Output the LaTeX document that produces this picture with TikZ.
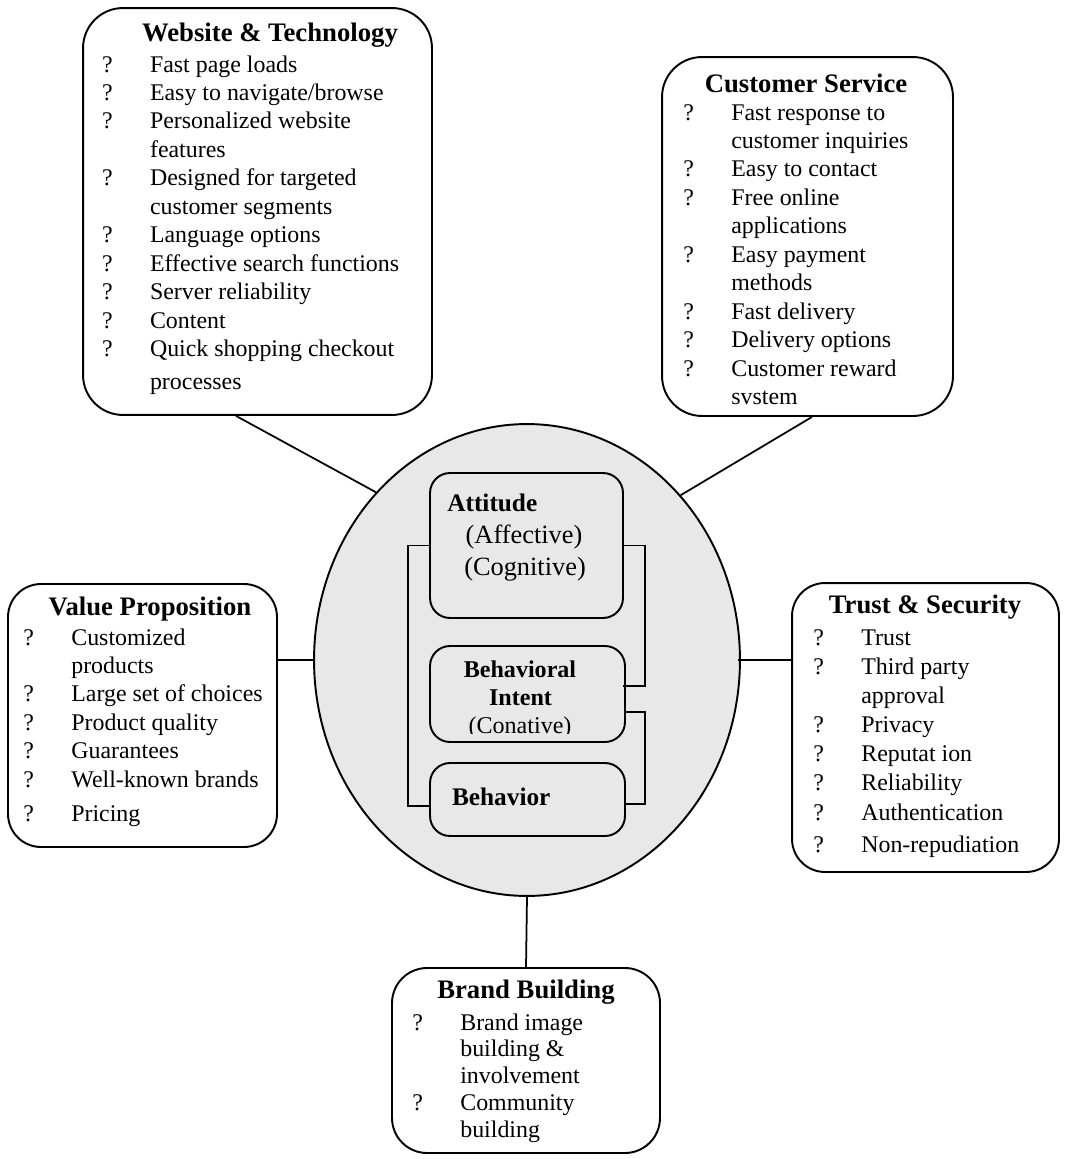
\documentclass[tikz,border=0pt]{standalone}
\usepackage{fontspec}
\setmainfont{Liberation Serif}
\usetikzlibrary{shapes.geometric}
\definecolor{coregray}{RGB}{232,232,232}
\tikzset{
	factorbox/.style={draw, line width=1.1pt, rounded corners=#1, inner sep=0pt},
	factorbox/.default=0.8cm,
	headline/.style={font=\fontsize{15.2}{18}\selectfont\bfseries, anchor=base, inner sep=0pt},
	itemlist/.style={font=\fontsize{13.6}{16.2}\selectfont, anchor=base west, inner sep=0pt},
	stagebox/.style={draw, line width=1.1pt, rounded corners=0.4cm, inner sep=0pt},
	link/.style={line width=1pt},
}
\newcommand{\itemtab}[1]{\begin{tabular}[t]{@{}p{0.96cm}@{}l@{}}#1\end{tabular}}
\begin{document}
\begin{tikzpicture}[x=0.02cm, y=-0.02cm]
		\useasboundingbox (0,0) rectangle (1065,1159);
		
		% centre: the attitude model
		\node[ellipse, draw, line width=1.1pt, fill=coregray, minimum width=8.52cm, minimum height=9.44cm, inner sep=0pt] (core) at (527,660) {};
		\node[stagebox, minimum width=3.86cm, minimum height=2.9cm] (att) at (526.5,545.5) {};
		\node[stagebox, minimum width=3.9cm, minimum height=1.92cm] (int) at (527.5,694) {};
		\node[stagebox, minimum width=3.9cm, minimum height=1.46cm] (beh) at (527.5,799.5) {};
		
		\node[anchor=base west, inner sep=0pt, font=\fontsize{14.4}{17}\selectfont\bfseries] (atttitle) at (447,511.7) {Attitude};
		\node[anchor=base, inner sep=0pt, font=\fontsize{15}{18}\selectfont] (affective) at (524,543) {(Affective)};
		\node[anchor=base, inner sep=0pt, font=\fontsize{15}{18}\selectfont] (cognitive) at (525,575) {(Cognitive)};
		\node[anchor=base, inner sep=0pt, font=\fontsize{13.7}{16}\selectfont\bfseries] (inttitle) at (520,677) {Behavioral};
		\node[anchor=base, inner sep=0pt, font=\fontsize{13.7}{16}\selectfont\bfseries] (inttitleb) at (520.5,705) {Intent};
		\begin{scope}
			\clip ([yshift=0.18cm]int.south west) rectangle (int.north east);
			\node[anchor=base, inner sep=0pt, font=\fontsize{13.7}{16}\selectfont] (conative) at (520,733) {(Conative)};
		\end{scope}
		\node[anchor=base west, inner sep=0pt, font=\fontsize{14.4}{17}\selectfont\bfseries] (behtitle) at (451.7,805.7) {Behavior};
		
		% brackets between the stages
		\draw[link] (att.west) -- ++(-21,0) |- ([yshift=-0.13cm]beh.west);
		\draw[link] (att.east) -- ++(21,0) |- ([yshift=0.16cm, xshift=-0.06cm]int.east);
		\draw[link] ([yshift=-0.36cm]int.east) -- ++(19,0) |- ([yshift=-0.09cm]beh.east);
		
		% factor boxes
		\node[factorbox, minimum width=6.98cm, minimum height=8.14cm] (web) at (257.5,211.5) {};
		\node[headline] (webtitle) at (270,42) {Website \& Technology};
		\node[itemlist] (webitems) at (101.7,72) {\itemtab{
			?&Fast page loads\\
			?&Easy to navigate/browse\\
			?&Personalized website\\
			&features\\
			?&Designed for targeted\\
			&customer segments\\
			?&Language options\\
			?&Effective search functions\\
			?&Server reliability\\
			?&Content\\
			?&Quick shopping checkout\\[2.7pt]
			&processes}};
		
		\node[factorbox, minimum width=5.82cm, minimum height=7.18cm] (cs) at (807.5,236.5) {};
		\node[headline] (cstitle) at (806,92) {Customer Service};
		\node[itemlist] (csitems) at (683,120) {\itemtab{
			?&Fast response to\\
			&customer inquiries\\
			?&Easy to contact\\
			?&Free online\\
			&applications\\
			?&Easy payment\\
			&methods\\
			?&Fast delivery\\
			?&Delivery options\\
			?&Customer reward\\
			&svstem}};
		
		\node[factorbox=0.66cm, minimum width=5.38cm, minimum height=5.26cm] (value) at (142.5,715.5) {};
		\node[headline] (valuetitle) at (150,615) {Value Proposition};
		\node[itemlist] (valueitems) at (23,645) {\itemtab{
			?&Customized\\
			&products\\
			?&Large set of choices\\
			?&Product quality\\
			?&Guarantees\\
			?&Well-known brands\\[3pt]
			?&Pricing}};
		
		\node[factorbox=0.66cm, minimum width=5.34cm, minimum height=5.78cm] (trust) at (925.5,727.5) {};
		\node[headline] (trusttitle) at (925,613) {Trust \& Security};
		\node[itemlist, font=\fontsize{13.6}{16.6}\selectfont] (trustitems) at (813,645) {\itemtab{
			?&Trust\\
			?&Third party\\
			&approval\\
			?&Privacy\\
			?&Reputat ion\\
			?&Reliability\\
			?&Authentication\\[1.7pt]
			?&Non-repudiation}};
		
		\node[factorbox=0.7cm, minimum width=5.36cm, minimum height=3.7cm] (brand) at (526,1060.5) {};
		\node[headline] (brandtitle) at (526,998) {Brand Building};
		\node[itemlist, font=\fontsize{13.6}{15.3}\selectfont] (branditems) at (412,1030) {\itemtab{
			?&Brand image\\
			&building \&\\
			&involvement\\
			?&Community\\
			&building}};
		
		% links to the centre
		\draw[link] ([xshift=-0.43cm]web.south) -- (core.132);
		\draw[link] ([xshift=0.09cm]cs.south) -- (core.47);
		\draw[link] (value.east |- core.west) -- (core.west);
		\draw[link] ([xshift=-0.06cm]core.east) -- (core.east -| trust.west);
		\draw[link] (core.south) -- (brand.north);
	\end{tikzpicture}
\end{document}
